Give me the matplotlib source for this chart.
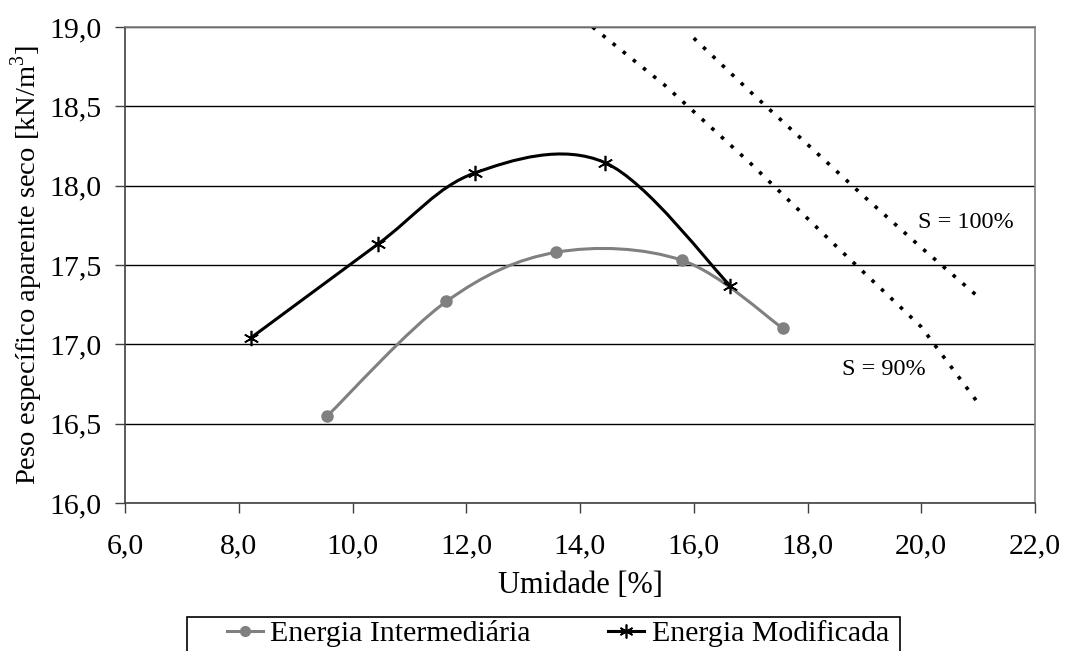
import matplotlib
matplotlib.use("Agg")
import matplotlib.pyplot as plt
from matplotlib.path import Path
from matplotlib.patches import PathPatch, Rectangle
from matplotlib.ticker import FuncFormatter, MultipleLocator

plt.rcParams['font.family'] = ['Liberation Serif', 'DejaVu Serif']
plt.rcParams['mathtext.fontset'] = 'custom'
plt.rcParams['mathtext.rm'] = 'Liberation Serif'

# dados
umid_inter = [9.56, 11.65, 13.58, 15.79, 17.57]
peso_inter = [16.55, 17.27, 17.58, 17.53, 17.10]

umid_mod = [8.21, 10.44, 12.15, 14.44, 16.64]
peso_mod = [17.04, 17.63, 18.08, 18.145, 17.37]

# curvas de saturação (pontos lidos)
umid_s100 = [16.0, 17.0, 18.0, 19.0, 20.0, 21.0]
peso_s100 = [18.93, 18.59, 18.26, 17.93, 17.61, 17.30]
umid_s90 = [14.22, 15.5, 17.0, 18.5, 20.0, 21.0]
peso_s90 = [19.0, 18.63, 18.14, 17.62, 17.11, 16.63]


def curva_suave(x, y):
    # caminho bezier tipo "linha suavizada" do Excel
    pts = list(zip(x, y))
    n = len(pts)
    verts = [pts[0]]
    codes = [Path.MOVETO]
    for i in range(n - 1):
        p0 = pts[i - 1] if i > 0 else pts[i]
        p1 = pts[i]
        p2 = pts[i + 1]
        p3 = pts[i + 2] if i + 2 < n else pts[i + 1]
        c1 = (p1[0] + (p2[0] - p0[0]) / 6, p1[1] + (p2[1] - p0[1]) / 6)
        c2 = (p2[0] - (p3[0] - p1[0]) / 6, p2[1] - (p3[1] - p1[1]) / 6)
        verts += [c1, c2, p2]
        codes += [Path.CURVE4] * 3
    return Path(verts, codes)


W, H = 1066, 651
fig = plt.figure(figsize=(W / 100, H / 100), dpi=100)
ax = fig.add_axes([125 / W, 1 - 503 / H, 910 / W, 476 / H])

cinza = '#808080'

ax.add_patch(PathPatch(curva_suave(umid_inter, peso_inter), fill=False,
                       edgecolor=cinza, lw=2.2, zorder=3))
ax.add_patch(PathPatch(curva_suave(umid_mod, peso_mod), fill=False,
                       edgecolor='black', lw=2.2, zorder=4))

ax.plot(umid_inter, peso_inter, linestyle='none', marker='o', ms=8,
        color=cinza, zorder=5)
ax.plot(umid_mod, peso_mod, linestyle='none', marker=(6, 2, 0), ms=11,
        mew=1.2, color='black', zorder=6)

ax.plot(umid_s100, peso_s100, color='black', lw=2.6,
        linestyle=(0, (1.0, 2.6)), zorder=2)
ax.plot(umid_s90, peso_s90, color='black', lw=2.6,
        linestyle=(0, (1.0, 2.6)), zorder=2)

ax.text(19.95, 17.765, 'S = 100%', fontsize=17.5, va='center', ha='left')
ax.text(18.6, 16.84, 'S = 90%', fontsize=17.5, va='center', ha='left')

# proxies para a legenda
ax.plot([], [], color=cinza, lw=2.2, marker='o', ms=7,
        label='Energia Intermediária')
ax.plot([], [], color='black', lw=2.2, marker=(6, 2, 0), ms=10, mew=1.2,
        label='Energia Modificada')

ax.set_xlim(6, 22)
ax.set_ylim(16, 19)
ax.xaxis.set_major_locator(MultipleLocator(2))
ax.yaxis.set_major_locator(MultipleLocator(0.5))
fmt = FuncFormatter(lambda v, p: f"{v:.1f}".replace('.', ','))
ax.xaxis.set_major_formatter(fmt)
ax.yaxis.set_major_formatter(fmt)

ax.grid(axis='y', color='black', lw=1.0, zorder=1)
ax.set_axisbelow(True)
for s in ['top', 'right']:
    ax.spines[s].set_color(cinza)
    ax.spines[s].set_linewidth(1.2)
for s in ['left', 'bottom']:
    ax.spines[s].set_color('#404040')
    ax.spines[s].set_linewidth(1.2)

ax.tick_params(direction='out', length=7, width=1.0, color='#404040',
               labelsize=21.5)
ax.tick_params(axis='x', pad=15)
ax.tick_params(axis='y', pad=10)

ax.set_xlabel('Umidade [%]', fontsize=22, labelpad=8)
ax.set_ylabel(r'Peso específico aparente seco [kN/m$^3$]', fontsize=20.5)
ax.yaxis.set_label_coords(-0.088, 0.5)

# moldura da legenda (cortada pela borda inferior, como no original)
fig.patches.append(Rectangle((187 / W, -20 / H), 713 / W, (651 - 617 + 20) / H,
                             transform=fig.transFigure, fill=False,
                             edgecolor='black', lw=1.2))
fig.legend(loc='upper left', bbox_to_anchor=(224 / W, 1 - 617 / H),
           ncol=2, fontsize=21.5, frameon=False, handlelength=1.2,
           handletextpad=0.25, columnspacing=2.6, borderpad=0.1,
           borderaxespad=0)

fig.savefig('out.png', dpi=100)
